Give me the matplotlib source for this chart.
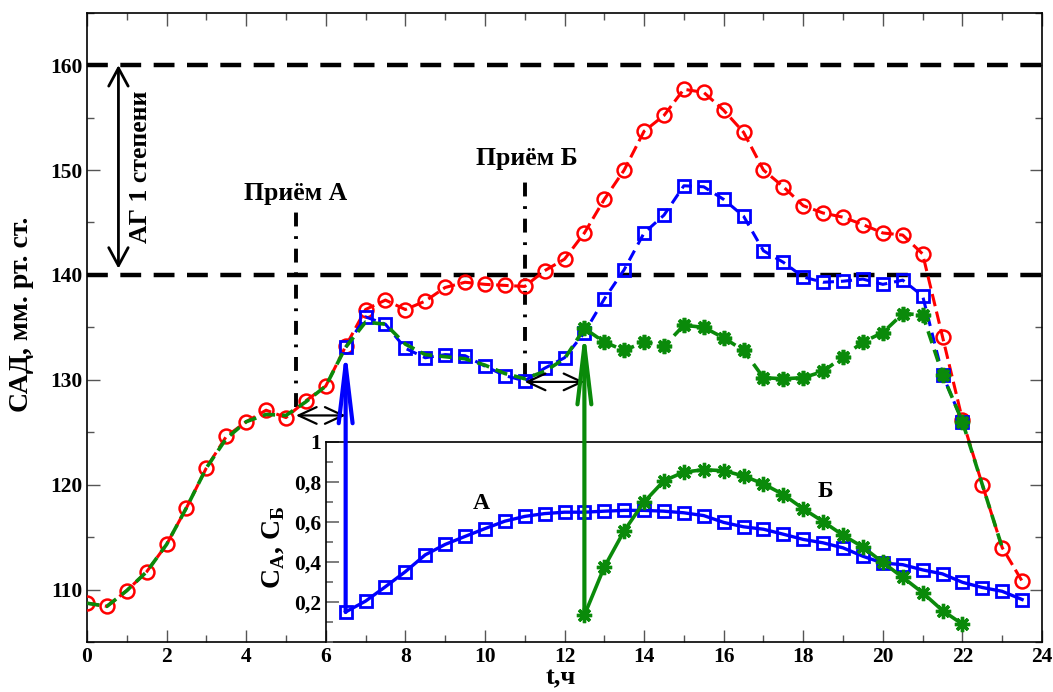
import numpy as np
import matplotlib
matplotlib.use('Agg')
import matplotlib.pyplot as plt
from matplotlib.ticker import MultipleLocator, FixedLocator, FuncFormatter

plt.rcParams['font.family'] = ['Liberation Serif', 'DejaVu Serif']
plt.rcParams['font.weight'] = 'bold'
plt.rcParams['lines.scale_dashes'] = False
plt.rcParams['mathtext.fontset'] = 'custom'
plt.rcParams['mathtext.rm'] = 'Liberation Serif:bold'
plt.rcParams['mathtext.bf'] = 'Liberation Serif:bold'

# ---------------- data ----------------
t_red = np.arange(0, 23.51, 0.5)
sad_red = [108.7, 108.4, 109.9, 111.7, 114.3, 117.8, 121.6, 124.6, 126.0, 127.1,
           126.4, 128.0, 129.4, 133.2, 136.7, 137.6, 136.7, 137.5, 138.8, 139.3,
           139.1, 139.0, 138.9, 140.4, 141.5, 144.0, 147.2, 150.0, 153.7, 155.2,
           157.7, 157.4, 155.7, 153.6, 150.0, 148.4, 146.6, 145.9, 145.5, 144.8,
           144.0, 143.8, 142.0, 134.1, 126.2, 120.0, 114.0, 110.8]

t_blue = np.arange(6.5, 22.01, 0.5)
sad_blue = [133.1, 136.0, 135.3, 133.0, 132.1, 132.4, 132.3, 131.3, 130.4, 129.9,
            131.1, 132.1, 134.5, 137.7, 140.5, 144.0, 145.7, 148.5, 148.4, 147.2,
            145.6, 142.3, 141.2, 139.8, 139.3, 139.4, 139.6, 139.1, 139.5, 138.0,
            130.5, 126.0]

t_green = np.arange(0, 23.01, 0.5)
sad_green = [108.7, 108.4, 109.9, 111.7, 114.3, 117.8, 121.6, 124.4, 126.0, 126.7,
             126.6, 127.9, 129.4, 133.1, 135.5, 135.3, 133.4, 132.4, 132.2, 132.0,
             131.4, 130.6, 130.1, 130.8, 132.0, 134.9, 133.6, 132.8, 133.6, 133.2,
             135.2, 135.0, 134.0, 132.8, 130.2, 130.1, 130.2, 130.8, 132.2, 133.6,
             134.5, 136.3, 136.2, 130.5, 126.0, 120.0, 114.0]
green_marker_idx = list(range(25, 45))   # stars from t = 12.5 to 22

t_cA = np.arange(6.5, 23.51, 0.5)
c_A = [0.150, 0.204, 0.276, 0.351, 0.435, 0.487, 0.527, 0.566, 0.603, 0.627,
       0.641, 0.648, 0.648, 0.653, 0.657, 0.657, 0.653, 0.645, 0.631, 0.597,
       0.575, 0.563, 0.538, 0.512, 0.495, 0.470, 0.428, 0.394, 0.386, 0.360,
       0.340, 0.298, 0.272, 0.253, 0.212]

t_cB = np.arange(12.5, 22.01, 0.5)
c_B = [0.134, 0.374, 0.555, 0.699, 0.805, 0.848, 0.860, 0.855, 0.829, 0.789,
       0.736, 0.665, 0.601, 0.533, 0.474, 0.397, 0.323, 0.246, 0.157, 0.089]

hyper_levels = [140, 160]
x_ticks = [0, 2, 4, 6, 8, 10, 12, 14, 16, 18, 20, 22, 24]
y_ticks = [110, 120, 130, 140, 150, 160]
inset_ticks = [0.2, 0.4, 0.6, 0.8, 1.0]
dose_A_time, dose_A_effect = 5.25, 6.5
dose_B_time, dose_B_effect = 11.0, 12.5

RED = '#ff0000'
BLUE = '#0000ff'
GREEN = '#0a8a0a'

# ---------------- figure ----------------
fig = plt.figure(figsize=(10.53, 6.92), dpi=100)
ax = fig.add_axes([87 / 1053, 1 - 642 / 692, (1042 - 87) / 1053, (642 - 12.7) / 692])
ax.set_xlim(0, 24)
ax.set_ylim(105, 165)

ax.xaxis.set_major_locator(FixedLocator(x_ticks))
ax.xaxis.set_minor_locator(MultipleLocator(1))
ax.yaxis.set_major_locator(FixedLocator(y_ticks))
ax.yaxis.set_minor_locator(MultipleLocator(5))
ax.tick_params(which='both', direction='in', top=True, right=True,
               labelsize=15.5, width=1.0, color='#555555')
ax.tick_params(which='major', length=9)
ax.tick_params(which='minor', length=5)
for s in ax.spines.values():
    s.set_linewidth(1.2)
for lab in ax.get_xticklabels() + ax.get_yticklabels():
    lab.set_fontweight('bold')

# hypertension band lines
for lv in hyper_levels:
    ax.axhline(lv, color='black', lw=3.2, ls='--', dashes=(15, 9), zorder=2)

# main series
ax.plot(t_red, sad_red, color=RED, lw=2.2, ls='--', dashes=(9, 4),
        marker='o', ms=10, mfc='none', mec=RED, mew=1.8, zorder=3)
ax.plot(t_blue, sad_blue, color=BLUE, lw=2.2, ls='--', dashes=(8, 5),
        marker='s', ms=9, mfc='none', mec=BLUE, mew=2.0, zorder=4)
ax.plot(t_green, sad_green, color=GREEN, lw=2.6, ls='--', dashes=(9, 5),
        zorder=5)
ax.plot(np.array(t_green)[green_marker_idx], np.array(sad_green)[green_marker_idx],
        ls='none', marker=(8, 2, 0), ms=11, mec=GREEN, mew=2.6, color=GREEN, zorder=6)

# dose markers (dash-dot verticals)
ax.plot([dose_A_time, dose_A_time], [127.4, 146.0], color='black', lw=2.8,
        ls='-.', dashes=(10, 7, 2, 7), zorder=2)
ax.plot([dose_B_time, dose_B_time], [130.3, 149.2], color='black', lw=2.8,
        ls='-.', dashes=(10, 7, 2, 7), zorder=2)
ax.text(dose_A_time, 146.7, 'Приём А', ha='center', va='bottom', fontsize=18.5,
        fontweight='bold')
ax.text(dose_B_time + 0.05, 150.0, 'Приём Б', ha='center', va='bottom', fontsize=18.5,
        fontweight='bold')

# horizontal delay arrows
ax.annotate('', xy=(dose_A_effect, 126.6), xytext=(dose_A_time, 126.6),
            arrowprops=dict(arrowstyle='<->,head_length=1.3,head_width=0.6',
                            lw=1.6, color='black', shrinkA=0, shrinkB=0,
                            mutation_scale=10), zorder=7)
ax.annotate('', xy=(dose_B_effect, 129.8), xytext=(dose_B_time, 129.8),
            arrowprops=dict(arrowstyle='<->,head_length=1.3,head_width=0.6',
                            lw=1.6, color='black', shrinkA=0, shrinkB=0,
                            mutation_scale=10), zorder=7)

# AG band arrow and label
ax.annotate('', xy=(0.79, 160), xytext=(0.79, 140.6),
            arrowprops=dict(arrowstyle='<->,head_length=1.3,head_width=0.7',
                            lw=2.0, color='black', shrinkA=0, shrinkB=0,
                            mutation_scale=10), zorder=7)
ax.text(1.35, 150.3, 'АГ 1 степени', rotation=90, ha='center', va='center',
        fontsize=18.5, fontweight='bold')

# ---------------- inset ----------------
ins_y0, ins_h = 105.0, 19.1
axi = ax.inset_axes([6, ins_y0, 18, ins_h], transform=ax.transData)
axi.patch.set_visible(False)
axi.set_xlim(6, 24)
axi.set_ylim(0, 1)
axi.spines['bottom'].set_visible(False)
axi.spines['right'].set_visible(False)
for s in ('top', 'left'):
    axi.spines[s].set_linewidth(1.2)
axi.set_xticks([])
axi.yaxis.set_major_locator(FixedLocator(inset_ticks))
axi.yaxis.set_minor_locator(MultipleLocator(0.1))
axi.yaxis.set_major_formatter(FuncFormatter(
    lambda v, p: ('%g' % round(v, 1)).replace('.', ',')))
axi.tick_params(axis='y', which='both', direction='in', labelsize=15.5,
                color='#666666', width=1.2)
axi.tick_params(axis='y', which='major', length=9)
axi.tick_params(axis='y', which='minor', length=5)
for lab in axi.get_yticklabels():
    lab.set_fontweight('bold')

axi.plot(t_cA, c_A, color=BLUE, lw=2.4, marker='s', ms=9, mfc='none',
         mec=BLUE, mew=2.0, clip_on=False)
axi.plot(t_cB, c_B, color=GREEN, lw=2.6, marker=(8, 2, 0), ms=11,
         mec=GREEN, mew=2.4, clip_on=False)
axi.text(9.9, 0.69, 'А', ha='center', va='center', fontsize=17, fontweight='bold')
axi.text(18.55, 0.75, 'Б', ha='center', va='center', fontsize=17, fontweight='bold')
axi.text(-0.072, 0.47, r'С$_{\mathregular{А}}$, С$_{\mathregular{Б}}$',
         transform=axi.transAxes, rotation=90, ha='center', va='center',
         fontsize=20, fontweight='bold')

# vertical arrows linking concentration start to pressure response
ax.annotate('', xy=(t_cA[0], sad_blue[0]), xytext=(t_cA[0], ins_y0 + c_A[0] * ins_h),
            arrowprops=dict(arrowstyle='->,head_length=4.2,head_width=0.5',
                            lw=3.0, color=BLUE, shrinkA=0, shrinkB=0,
                            mutation_scale=10), zorder=8)
ax.annotate('', xy=(t_cB[0], sad_green[25]), xytext=(t_cB[0], ins_y0 + c_B[0] * ins_h),
            arrowprops=dict(arrowstyle='->,head_length=4.2,head_width=0.5',
                            lw=3.0, color=GREEN, shrinkA=0, shrinkB=0,
                            mutation_scale=10), zorder=8)

# axis labels
fig.text(22 / 1053, 1 - 314 / 692, 'САД, мм. рт. ст.', rotation=90,
         ha='center', va='center', fontsize=20, fontweight='bold')
fig.text(561 / 1053, 1 - 666 / 692, 't,ч', ha='center', va='top',
         fontsize=19, fontweight='bold')

fig.savefig('out.png', dpi=100)
